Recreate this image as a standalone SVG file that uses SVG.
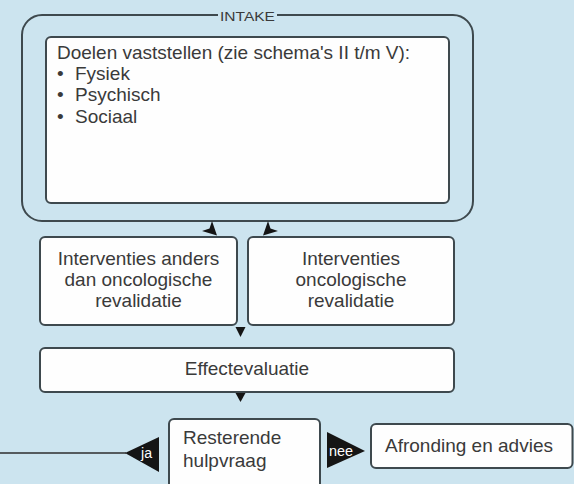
<svg xmlns="http://www.w3.org/2000/svg" width="574" height="484" viewBox="0 0 574 484">
<style>
.bg{fill:#cce4ef}
.box{fill:#fefefe;stroke:#3e494e;stroke-width:2}
.frame{fill:none;stroke:#3e494e;stroke-width:2}
.t{font-family:"Liberation Sans",Arial,sans-serif;font-size:19px;fill:#3a3a3a}
.c{text-anchor:middle}
.head{fill:#151515}
.lbl{font-family:"Liberation Sans",Arial,sans-serif;font-size:14px;fill:#ffffff}
</style>
<rect class="bg" x="0" y="0" width="574" height="484"/>
<g id="intake">
<path class="frame" d="M218,15 H42 A20,20 0 0 0 22,35 V201 A20,20 0 0 0 42,221 H453 A20,20 0 0 0 473,201 V35 A20,20 0 0 0 453,15 H277"/>
<text x="247.5" y="20.5" class="c" style="font-family:'Liberation Sans',Arial,sans-serif;font-size:13.5px;fill:#3a3a3a" textLength="55" lengthAdjust="spacingAndGlyphs">INTAKE</text>
</g>
<g id="doelen">
<rect class="box" x="46" y="37" width="403" height="166" rx="5"/>
<text class="t" x="57" y="59">Doelen vaststellen (zie schema's II t/m V):</text>
<text class="t" x="57" y="80">•</text><text class="t" x="75" y="80">Fysiek</text>
<text class="t" x="57" y="101">•</text><text class="t" x="75" y="101">Psychisch</text>
<text class="t" x="57" y="123">•</text><text class="t" x="75" y="123">Sociaal</text>
</g>
<g id="interv-anders">
<rect class="box" x="40" y="237" width="197" height="88" rx="5"/>
<text class="t c" x="138.5" y="265">Interventies anders</text>
<text class="t c" x="138.5" y="286">dan oncologische</text>
<text class="t c" x="138.5" y="307">revalidatie</text>
</g>
<g id="interv-onco">
<rect class="box" x="248" y="237" width="206" height="88" rx="5"/>
<text class="t c" x="351" y="265">Interventies</text>
<text class="t c" x="351" y="286">oncologische</text>
<text class="t c" x="351" y="307">revalidatie</text>
</g>
<g id="effect">
<rect class="box" x="40" y="348" width="414" height="44" rx="5"/>
<text class="t c" x="247" y="375">Effectevaluatie</text>
</g>
<g id="resterend">
<rect class="box" x="169" y="419" width="151" height="80" rx="5"/>
<text class="t" x="183" y="444">Resterende</text>
<text class="t" x="183" y="467">hulpvraag</text>
</g>
<g id="afronding">
<rect class="box" x="371" y="424" width="201.5" height="44" rx="5"/>
<text class="t" x="385" y="452">Afronding en advies</text>
</g>
<g id="connectors">
<path class="head" d="M217,235.5 L202,231 L209.5,228.5 L212,221 Z"/>
<path class="head" d="M263,235.5 L278,231 L270.5,228.5 L268,221 Z"/>
<polygon class="head" points="235.5,327 245.5,327 240.5,337"/>
<polygon class="head" points="235.5,393 245.5,393 240.5,402"/>
<line x1="0" y1="453" x2="126" y2="453" stroke="#2e2e2e" stroke-width="1.6"/>
<polygon class="head" points="125,453 159,437 159,472"/>
<text class="lbl" x="141" y="458" textLength="11" lengthAdjust="spacingAndGlyphs">ja</text>
<polygon class="head" points="327,432 327,468 365,451"/>
<text class="lbl" x="329" y="456" textLength="24" lengthAdjust="spacingAndGlyphs">nee</text>
</g>
</svg>
